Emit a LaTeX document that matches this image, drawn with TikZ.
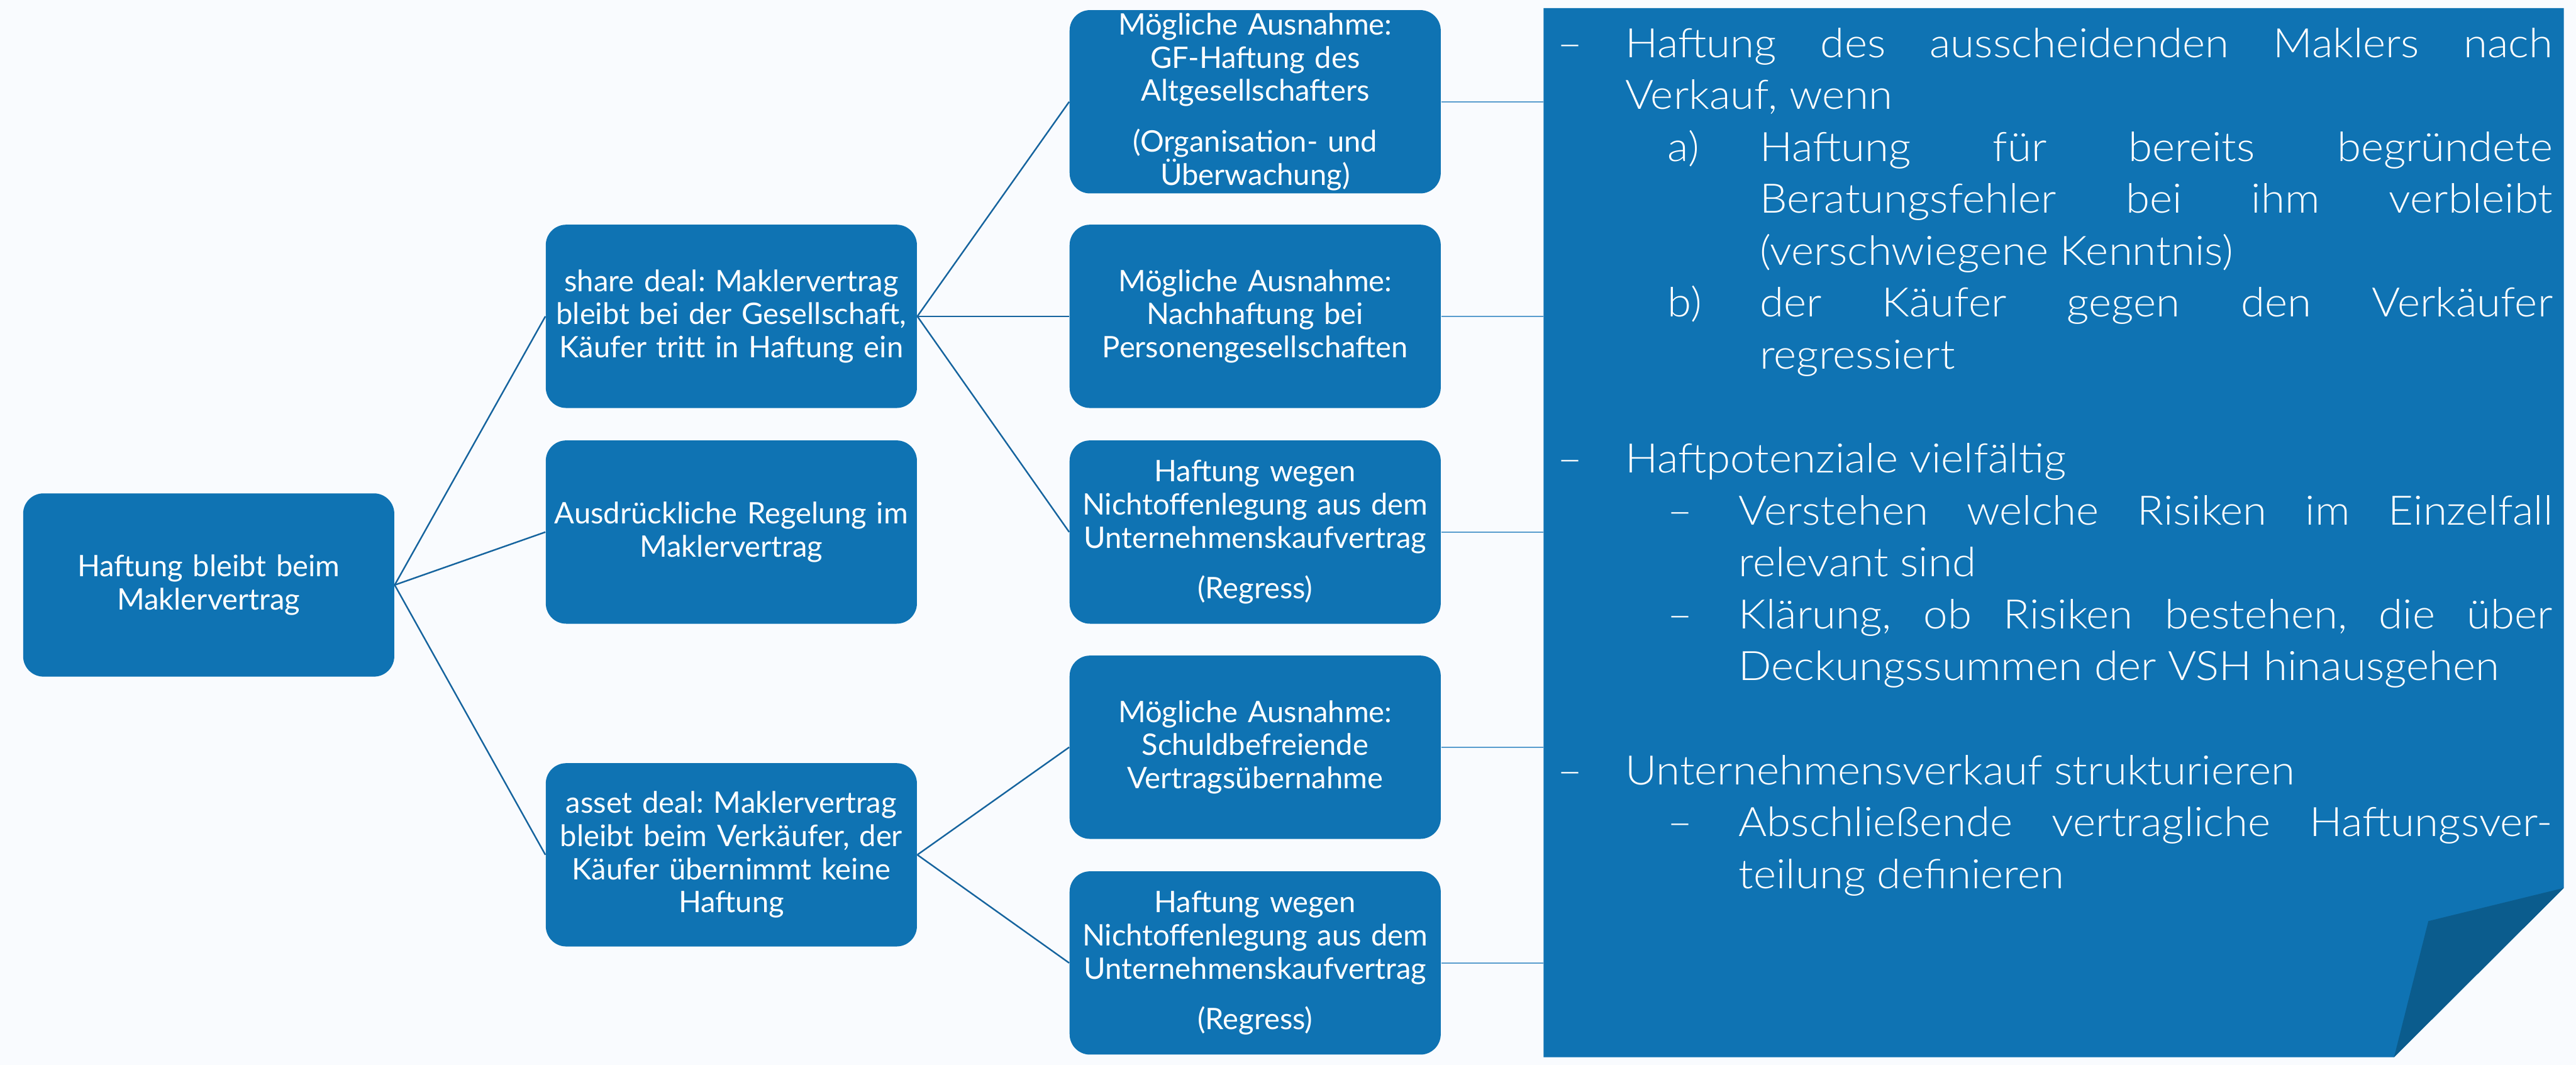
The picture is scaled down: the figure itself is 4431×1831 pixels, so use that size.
\documentclass[tikz,border=0pt]{standalone}
\usepackage{fontspec}
\setmainfont{Lato}
\newfontfamily\latolight{Lato Light}[FakeStretch=1.07]
\frenchspacing
\definecolor{bgc}{RGB}{249,251,254}
\definecolor{boxblue}{RGB}{15,115,179}
\definecolor{folddark}{RGB}{11,92,141}
\definecolor{lineblue}{RGB}{22,100,158}
\definecolor{panelline}{RGB}{88,156,205}
\newcommand{\pitem}[4]{\par\hangindent=#2cm\hangafter=0\noindent\llap{\makebox[#3cm][l]{#1}}#4\par}
\begin{document}
\begin{tikzpicture}[x=0.01cm,y=-0.01cm,
  box/.style={fill=boxblue, rounded corners=0.35cm, minimum width=6.38cm, minimum height=3.15cm,
    text width=6.3cm, align=center, text=white, inner sep=0pt,
    font=\fontsize{14.5pt}{16.2pt}\selectfont\frenchspacing},
  link/.style={draw=lineblue, line width=0.75pt},
  plink/.style={draw=panelline, line width=0.75pt}]
\fill[bgc] (0,0) rectangle (4431,1831);
\useasboundingbox (0,0) rectangle (4431,1831);
% panel corner coordinate
\coordinate (pTL) at (2655,14);
% nodes
\node[box] (root) at (359,1006) {Haftung bleibt beim\\Maklervertrag};
\node[box] (share) at (1258,544) {share deal: Maklervertrag\\bleibt bei der Gesellschaft,\\Käufer tritt in Haftung ein};
\node[box] (ausdr) at (1258,915) {Ausdrückliche Regelung im\\Maklervertrag};
\node[box] (asset) at (1258,1470) {asset deal: Maklervertrag\\bleibt beim Verkäufer, der\\Käufer übernimmt keine\\Haftung};
\node[box] (gf) at (2159,175) {Mögliche Ausnahme:\\GF-Haftung des\\Altgesellschafters\\[0.3cm](Organisation- und\\Überwachung)};
\node[box] (nach) at (2159,544) {Mögliche Ausnahme:\\Nachhaftung bei\\Personengesellschaften};
\node[box] (haft1) at (2159,915) {Haftung wegen\\Nichtoffenlegung aus dem\\Unternehmenskaufvertrag\\[0.3cm](Regress)};
\node[box] (schuld) at (2159,1285) {Mögliche Ausnahme:\\Schuldbefreiende\\Vertragsübernahme};
\node[box] (haft2) at (2159,1656) {Haftung wegen\\Nichtoffenlegung aus dem\\Unternehmenskaufvertrag\\[0.3cm](Regress)};
% connectors
\draw[link] (root.east) -- (share.west);
\draw[link] (root.east) -- (ausdr.west);
\draw[link] (root.east) -- (asset.west);
\draw[link] (share.east) -- (gf.west);
\draw[link] (share.east) -- (nach.west);
\draw[link] (share.east) -- (haft1.west);
\draw[link] (asset.east) -- (schuld.west);
\draw[link] (asset.east) -- (haft2.west);
\foreach \n in {gf,nach,haft1,schuld,haft2}{
  \draw[plink] (\n.east) -- (\n.east -| pTL);
}
% panel
\fill[boxblue] (pTL) -- (4410,14) -- (4410,1527) -- (4118,1818) -- (2655,1818) -- cycle;
\fill[folddark] (4410,1527) -- (4177,1584) -- (4118,1818) -- cycle;
\node[anchor=north west, inner sep=0pt, text width=17.11cm, align=justify, text=white,
  font=\latolight\fontsize{19.85pt}{25.4pt}\selectfont\frenchspacing] (ptext) at (2678,8.5) {%
\tolerance=10000\hyphenpenalty=10000
\pitem{–}{1.17}{1.17}{\strut Haftung des ausscheidenden Maklers nach\linebreak Verkauf, wenn}
\pitem{a)}{3.48}{1.58}{Haftung für bereits begründete\linebreak Beratungsfehler bei ihm verbleibt\linebreak (verschwiegene Kenntnis)}
\pitem{b)}{3.48}{1.58}{der Käufer gegen den Verkäufer\linebreak regressiert}
\vspace{\baselineskip}
\pitem{–}{1.17}{1.17}{Haftpotenziale vielfältig}
\pitem{–}{3.12}{1.22}{Verstehen welche Risiken im Einzelfall\linebreak relevant sind}
\pitem{–}{3.12}{1.22}{Klärung, ob Risiken bestehen, die über\linebreak Deckungssummen der VSH hinausgehen}
\vspace{\baselineskip}
\pitem{–}{1.17}{1.17}{Unternehmensverkauf strukturieren}
\pitem{–}{3.12}{1.22}{Abschließende vertragliche Haftungsver-\linebreak teilung definieren}
};
\end{tikzpicture}
\end{document}
